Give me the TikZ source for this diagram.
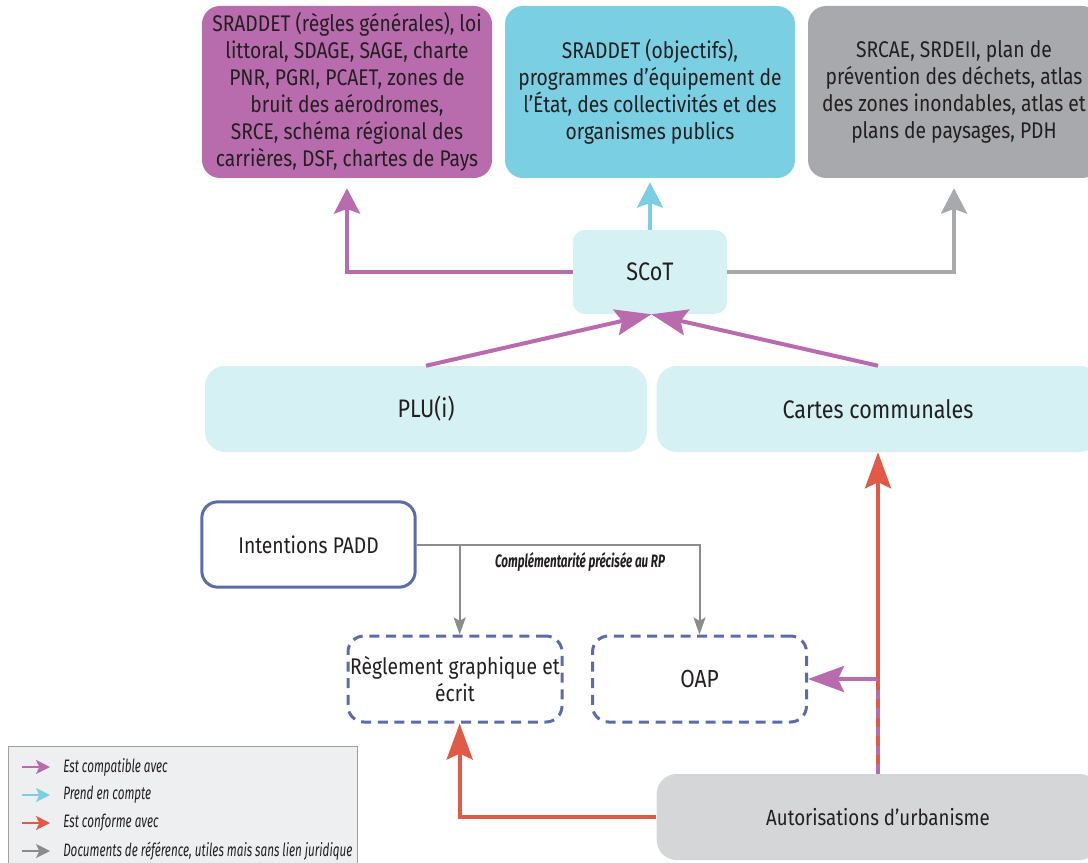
\documentclass[tikz,border=0pt]{standalone}
\usepackage{fontspec}
\setmainfont{Fira Sans}[FakeStretch=0.85]
\newfontfamily\legfont{Fira Sans}[FakeStretch=0.65]
\usetikzlibrary{arrows.meta,calc}
\definecolor{cpurple}{HTML}{B86CAD}
\definecolor{ccyan}{HTML}{7BCFE3}
\definecolor{cgraybox}{HTML}{A8A9AC}
\definecolor{clight}{HTML}{D5F1F4}
\definecolor{cred}{HTML}{E05A48}
\definecolor{cnavy}{HTML}{5D6BA8}
\definecolor{cthin}{HTML}{8C8C8C}
\definecolor{cautor}{HTML}{D5D6D8}
\definecolor{cleg}{HTML}{EEEFF1}
\definecolor{clegline}{HTML}{A0A0A0}
\definecolor{ctxt}{HTML}{231F20}
\tikzset{
  basebox/.style={inner sep=0pt, align=center, text=ctxt, font=\fontsize{17}{20.25}\selectfont},
  bigtext/.style={font=\fontsize{19}{22}\selectfont},
  topbox/.style={basebox, rounded corners=13.5pt, minimum width=217.5pt, minimum height=129pt},
  lightbox/.style={basebox, bigtext, fill=clight, rounded corners=15pt, minimum height=64.5pt},
  dashbox/.style={basebox, draw=cnavy, line width=2.25pt, dash pattern=on 7.5pt off 5pt, rounded corners=12pt, minimum width=160.5pt, minimum height=64.5pt},
  bigarrow/.style={line width=3pt, -{Stealth[length=27pt, width=19.5pt, inset=4.5pt]}},
  toparrow/.style={line width=3pt, -{Stealth[length=19pt, width=19.5pt, inset=3.5pt]}},
  thinarrow/.style={draw=cthin, line width=1.5pt, -{Stealth[length=12.75pt, width=9pt, inset=2.5pt]}},
  legarrow/.style={line width=1.5pt, -{Stealth[length=10.5pt, width=10.5pt, inset=2.5pt]}},
  legtext/.style={anchor=west, inner sep=0pt, text=ctxt, font=\legfont\itshape\fontsize{13.5}{15}\selectfont},
}
\begin{document}
\begin{tikzpicture}[x=0.75pt,y=-0.75pt]
\useasboundingbox (0,0) rectangle (1088,863);
% top boxes
\node[topbox, fill=cpurple] (purple) at (347,92) {SRADDET (règles générales), loi\\littoral, SDAGE, SAGE, charte\\PNR, PGRI, PCAET, zones de\\bruit des aérodromes,\\SRCE, schéma régional des\\carrières, DSF, chartes de Pays};
\node[topbox, fill=ccyan] (cyan) at (650,92) {SRADDET (objectifs),\\programmes d’équipement de\\l’État, des collectivités et des\\organismes publics};
\node[topbox, fill=cgraybox, minimum width=219pt] (gray) at (954,92) {SRCAE, SRDEII, plan de\\prévention des déchets, atlas\\des zones inondables, atlas et\\plans de paysages, PDH};
% SCoT
\node[basebox, bigtext, fill=clight, rounded corners=9pt, minimum width=115.5pt, minimum height=63pt] (scot) at (650,272) {SCoT};
% PLU / Cartes
\node[lightbox, minimum width=331.5pt] (plu) at (426,409) {PLU(i)};
\node[lightbox, minimum width=332pt] (cartes) at (878,409) {Cartes communales};
% PADD
\node[basebox, draw=cnavy, fill=white, line width=2.25pt, rounded corners=12pt, minimum width=160pt, minimum height=64pt] (padd) at (308.5,544.5) {Intentions PADD};
% dashed boxes
\node[dashbox] (regl) at (455,679) {Règlement graphique et\\écrit};
\node[dashbox, font=\fontsize{18.5}{22}\selectfont] (oap) at (699.5,679) {OAP};
% Autorisations
\node[basebox, fill=cautor, rounded corners=15pt, minimum width=332pt, minimum height=64.5pt, font=\fontsize{16.5}{20}\selectfont] (autor) at (878,817) {Autorisations d’urbanisme};
% legend
\node[draw=clegline, fill=cleg, line width=0.75pt, inner sep=0pt, minimum width=261.75pt, minimum height=96pt, anchor=north west] (leg) at (8,746) {};

% SCoT to top boxes
\draw[toparrow, draw=cpurple, color=cpurple, shorten >=7.5pt] (scot.west) -| (purple.south);
\draw[toparrow, draw=ccyan, color=ccyan, shorten >=3pt] (scot.north) -- (cyan.south);
\draw[toparrow, draw=cgraybox, color=cgraybox, shorten >=7.5pt] (scot.east) -| (gray.south);
% PLU / Cartes to SCoT
\draw[bigarrow, draw=cpurple, color=cpurple] (plu.north) -- ([xshift=1pt]scot.south);
\draw[bigarrow, draw=cpurple, color=cpurple] (cartes.north) -- ([xshift=1pt]scot.south);
% Autorisations
\coordinate (junc) at (autor.north |- oap.east);
\draw[bigarrow, draw=cred, color=cred] (autor.north) -- (cartes.south);
\draw[line width=3pt, draw=cpurple, dash pattern=on 7pt off 7pt] (autor.north) -- (junc);
\draw[bigarrow, draw=cpurple, color=cpurple] (junc) -- (oap.east);
\draw[bigarrow, draw=cred, color=cred] (autor.west) -| ([xshift=3.5pt]regl.south);
% PADD links
\coordinate (br) at ([xshift=3.5pt]regl.north |- padd.east);
\draw[thinarrow, color=cthin] (padd.east) -| (oap.north);
\draw[thinarrow, color=cthin] (br) -- ([xshift=3.5pt]regl.north);
\node[inner sep=0pt, text=ctxt, font=\legfont\bfseries\itshape\fontsize{13.5}{15}\selectfont] (cprp) at (580,562) {Complémentarité précisée au RP};

% legend rows
\coordinate (l1a) at (22,767); \coordinate (l1b) at (50,767);
\coordinate (l2a) at (22,795); \coordinate (l2b) at (50,795);
\coordinate (l3a) at (22,823); \coordinate (l3b) at (50,823);
\coordinate (l4a) at (22,851); \coordinate (l4b) at (50,851);
\draw[legarrow, draw=cpurple, color=cpurple] (l1a) -- (l1b);
\draw[legarrow, draw=ccyan, color=ccyan] (l2a) -- (l2b);
\draw[legarrow, draw=cred, color=cred] (l3a) -- (l3b);
\draw[legarrow, draw=cthin, color=cthin] (l4a) -- (l4b);
\node[legtext] (t1) at (63,767) {Est compatible avec};
\node[legtext] (t2) at (63,795) {Prend en compte};
\node[legtext] (t3) at (63,823) {Est conforme avec};
\node[legtext] (t4) at (63,851) {Documents de référence, utiles mais sans lien juridique};
\end{tikzpicture}
\end{document}
